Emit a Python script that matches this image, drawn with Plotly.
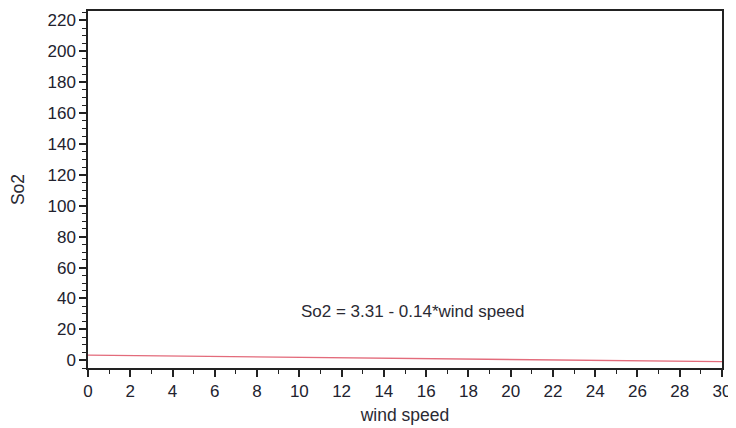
import plotly.graph_objects as go

wind_speed = [0, 30]
so2_fit = [3.31, -0.89]
equation_label = "So2 = 3.31 - 0.14*wind speed"

FONT = "Arial, Liberation Sans, sans-serif"

fig = go.Figure()
fig.add_trace(go.Scatter(x=wind_speed, y=so2_fit, mode="lines",
                         line=dict(color="#e36b7b", width=1.4),
                         showlegend=False, hoverinfo="skip"))

fig.add_annotation(x=15.4, y=31.6, text=equation_label, showarrow=False,
                   font=dict(family=FONT, size=17, color="#2a2a33"))

axis_common = dict(showline=True, linecolor="#222222", linewidth=1.5, mirror=True,
                   ticks="outside", ticklen=7, tickwidth=1.5, tickcolor="#222222",
                   showgrid=False, zeroline=False, automargin=False,
                   tickfont=dict(family=FONT, size=17, color="#22222e"),
                   title_font=dict(family=FONT, size=17.5, color="#2a2a33"))

fig.update_xaxes(range=[0, 30], tickmode="linear", tick0=0, dtick=2,
                 minor=dict(ticks="outside", ticklen=4, tickwidth=1.2, tickcolor="#222222", dtick=1),
                 title_text="wind speed", title_standoff=9, **axis_common)
fig.update_yaxes(range=[-5, 226], tickmode="linear", tick0=0, dtick=20,
                 minor=dict(ticks="outside", ticklen=4, tickwidth=1.2, tickcolor="#222222", dtick=5),
                 title_text="So2", title_standoff=20, **axis_common)

fig.update_layout(width=728, height=420, margin=dict(l=80, r=14, t=3, b=60),
                  plot_bgcolor="white", paper_bgcolor="white")

fig.write_html("out.html")
